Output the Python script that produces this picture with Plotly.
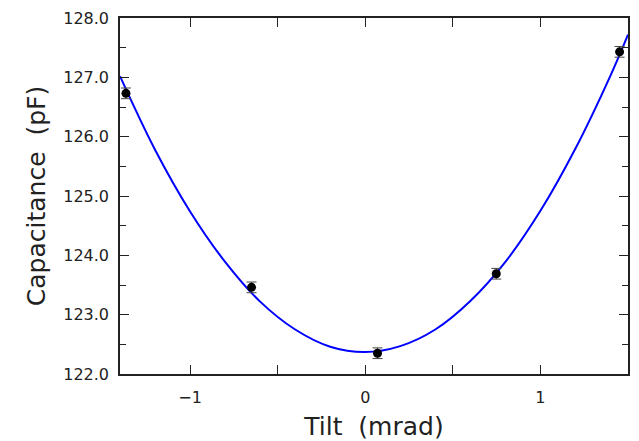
import plotly.graph_objects as go

# Measured data (Tilt in mrad, Capacitance in pF)
tilt = [-1.366, -0.649, 0.070, 0.748, 1.452]
capacitance = [126.73, 123.46, 122.35, 123.69, 127.43]
cap_err = [0.09, 0.09, 0.09, 0.09, 0.09]

# Fitted curve
fit_tilt = [-1.4, -1.2, -1.0, -0.8, -0.6, -0.4, -0.2, 0.0, 0.2, 0.4, 0.6, 0.8, 1.0, 1.2, 1.4, 1.5]
fit_cap = [127.02, 125.78, 124.74, 123.89, 123.22, 122.75, 122.46, 122.37,
           122.47, 122.75, 123.23, 123.89, 124.75, 125.80, 127.03, 127.72]

x_tickvals = [-1, -0.5, 0, 0.5, 1]
x_ticktext = ["\u22121", "", "0", "", "1"]
y_tickvals = [122, 123, 124, 125, 126, 127, 128]
y_ticktext = ["122.0", "123.0", "124.0", "125.0", "126.0", "127.0", "128.0"]

FONT = "DejaVu Sans"

fig = go.Figure()
fig.add_trace(go.Scatter(
    x=fit_tilt, y=fit_cap, mode="lines",
    line=dict(color="#0000ff", width=2, shape="spline", smoothing=1.0),
    showlegend=False, hoverinfo="skip"))
fig.add_trace(go.Scatter(
    x=tilt, y=capacitance, mode="markers",
    marker=dict(color="black", size=9),
    error_y=dict(type="data", array=cap_err, visible=True,
                 color="#444444", thickness=1, width=5),
    showlegend=False))

axis_common = dict(
    showgrid=False, zeroline=False, showline=True, linecolor="#222222",
    linewidth=1.5, mirror="ticks", ticks="inside", tickcolor="#222222",
    tickwidth=1.2, ticklen=9,
    tickfont=dict(family=FONT, size=16, color="#222222"),
)

fig.update_xaxes(
    range=[-1.4, 1.5], tickmode="array", tickvals=x_tickvals, ticktext=x_ticktext,
    title=dict(text="Tilt  (mrad)", font=dict(family=FONT, size=25, color="#222222"), standoff=16),
    ticklabelstandoff=8,
    **axis_common)
fig.update_yaxes(
    range=[122, 128], tickmode="array", tickvals=y_tickvals, ticktext=y_ticktext,
    minor=dict(dtick=0.5, ticks="inside", ticklen=6, tickcolor="#222222", tickwidth=1.2, showgrid=False),
    title=dict(text="Capacitance  (pF)", font=dict(family=FONT, size=25, color="#222222"), standoff=10),
    ticklabelstandoff=6,
    **axis_common)

fig.update_layout(
    width=639, height=441,
    margin=dict(l=120, r=11, t=18, b=67, autoexpand=False),
    plot_bgcolor="white", paper_bgcolor="white",
)

fig.write_html("out.html")
